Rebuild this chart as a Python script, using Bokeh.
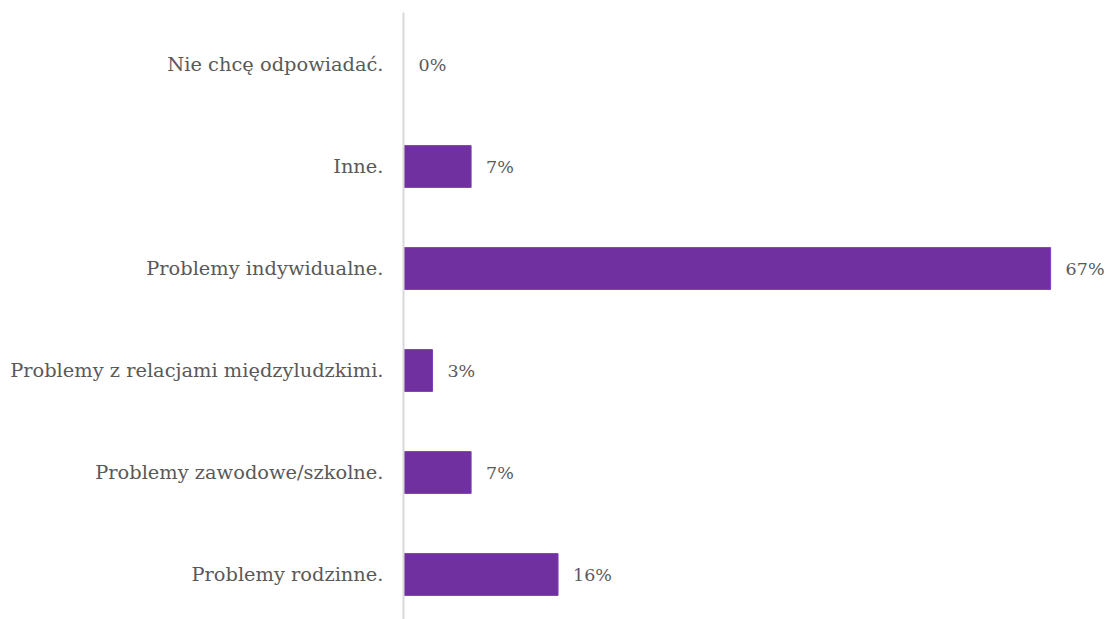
from bokeh.plotting import figure
from bokeh.models import ColumnDataSource, FixedTicker, Range1d
from bokeh.core.properties import value
from bokeh.embed import file_html
from bokeh.resources import INLINE

categories = ["Problemy rodzinne.", "Problemy zawodowe/szkolne.",
              "Problemy z relacjami międzyludzkimi.", "Problemy indywidualne.",
              "Inne.", "Nie chcę odpowiadać."]
values = [16, 7, 3, 67, 7, 0]
labels = ["16%", "7%", "3%", "67%", "7%", "0%"]

FONT = "DejaVu Serif"

pos = list(range(len(categories)))
src = ColumnDataSource(dict(y=pos, v=values, lab=labels))

p = figure(width=1110, height=619, output_backend="svg", toolbar_location=None,
           x_range=Range1d(0, 73.2), y_range=Range1d(-0.441, 5.51),
           min_border_left=403, min_border_right=0, min_border_top=12, min_border_bottom=0)
p.outline_line_color = None
p.grid.visible = False
p.xaxis.visible = False

p.hbar(y="y", left=0, right="v", height=0.41, source=src, fill_color="#7030A0",
       line_color="#7F3FB5", line_width=1)

p.text(x="v", y="y", text="lab", source=src, x_offset=15, text_baseline="middle",
       text_align="left", text_font=value(FONT), text_font_size="17.5px",
       text_color="#595959")

ya = p.yaxis[0]
ya.ticker = FixedTicker(ticks=pos)
ya.major_label_overrides = {i: c for i, c in enumerate(categories)}
ya.major_tick_line_color = None
ya.minor_tick_line_color = None
ya.axis_line_color = "#D9D9D9"
ya.axis_line_width = 2
ya.major_label_standoff = 14
ya.major_label_text_font = FONT
ya.major_label_text_font_size = "19.4px"
ya.major_label_text_color = "#595959"

open("out.html", "w").write(file_html(p, INLINE))
